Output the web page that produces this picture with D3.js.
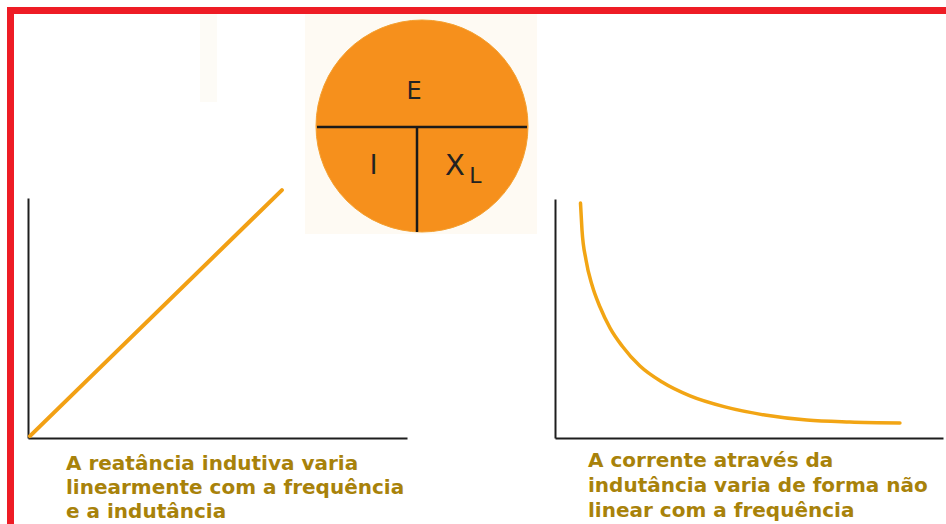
<!DOCTYPE html>
<html>
<head>
<meta charset="utf-8">
<script src="https://cdn.jsdelivr.net/npm/d3@7"></script>
<style>
  html, body { margin: 0; padding: 0; background: #ffffff; }
  svg { display: block; }
</style>
</head>
<body>
<svg id="chart" width="946" height="524"></svg>
<script>
// ---- Data ----
// Left chart: inductive reactance vs frequency (linear)
const leftFrequency = [0.5, 67];
const leftReactance = [0.8, 103.3];
// Right chart: current vs frequency (non-linear)
const rightFrequency = [6.57, 6.96, 7.99, 9.54, 11.6, 14.2, 17.3, 21.9, 27.6, 34.8, 43.8, 54.1, 64.9, 76.0, 88.9];
const rightCurrent   = [98.3, 87.0, 74.5, 64.0, 54.8, 46.0, 38.5, 30.1, 23.4, 17.6, 13.0, 9.6, 7.5, 6.7, 6.3];
// Circle (Ohm's law triangle) labels
const circleLabels = ["E", "I", "X", "L"];
// Captions
const leftCaption = ["A reatância indutiva varia", "linearmente com a frequência", "e a indutância"];
const rightCaption = ["A corrente através da", "indutância varia de forma não", "linear com a frequência"];

const svg = d3.select("#chart");

// faint scanned-paper background patches
svg.append("rect").attr("x", 305).attr("y", 14).attr("width", 232).attr("height", 220).attr("fill", "#fefaf3");
svg.append("rect").attr("x", 200).attr("y", 14).attr("width", 17).attr("height", 88).attr("fill", "#fdfbf6");

// red frame
svg.append("rect").attr("x", 7).attr("y", 7).attr("width", 939).attr("height", 7).attr("fill", "#ee1c25");
svg.append("rect").attr("x", 7).attr("y", 7).attr("width", 7).attr("height", 517).attr("fill", "#ee1c25");

// ---- Left chart ----
const xL = d3.scaleLinear().domain([0, 100]).range([28, 407]);
const yL = d3.scaleLinear().domain([0, 100]).range([438, 198]);
const axisStyle = g => {
  g.selectAll(".domain").attr("stroke", "#1e1e1e").attr("stroke-width", 2);
  g.selectAll(".tick").remove();
};
svg.append("g").attr("transform", `translate(0,${yL(0)})`)
  .call(d3.axisBottom(xL).ticks(0).tickSizeOuter(0)).call(axisStyle);
svg.append("g").attr("transform", `translate(${xL(0)},0)`)
  .call(d3.axisLeft(yL).ticks(0).tickSizeOuter(0)).call(axisStyle);

const leftPts = leftFrequency.map((f, i) => [f, leftReactance[i]]);
svg.append("path")
  .datum(leftPts)
  .attr("d", d3.line().x(d => xL(d[0])).y(d => yL(d[1])))
  .attr("fill", "none")
  .attr("stroke", "#f2a014")
  .attr("stroke-width", 4)
  .attr("stroke-linecap", "round");

// ---- Right chart ----
const xR = d3.scaleLinear().domain([0, 100]).range([555, 943]);
const yR = d3.scaleLinear().domain([0, 100]).range([438, 199]);
svg.append("g").attr("transform", `translate(0,${yR(0)})`)
  .call(d3.axisBottom(xR).ticks(0).tickSizeOuter(0)).call(axisStyle);
svg.append("g").attr("transform", `translate(${xR(0)},0)`)
  .call(d3.axisLeft(yR).ticks(0).tickSizeOuter(0)).call(axisStyle);

const rightPts = rightFrequency.map((f, i) => [f, rightCurrent[i]]);
svg.append("path")
  .datum(rightPts)
  .attr("d", d3.line().x(d => xR(d[0])).y(d => yR(d[1])).curve(d3.curveMonotoneX))
  .attr("fill", "none")
  .attr("stroke", "#f2a514")
  .attr("stroke-width", 3.5)
  .attr("stroke-linecap", "round");

// ---- Circle ----
const cx = 422, cy = 126, r = 106;
svg.append("circle").attr("cx", cx).attr("cy", cy).attr("r", r)
  .attr("fill", "#f6901c").attr("stroke", "#f4a030").attr("stroke-width", 1);
svg.append("line").attr("x1", cx - r + 1).attr("x2", cx + r - 1).attr("y1", 127).attr("y2", 127)
  .attr("stroke", "#1a1a1a").attr("stroke-width", 2.5);
svg.append("line").attr("x1", 417).attr("x2", 417).attr("y1", 127).attr("y2", 232)
  .attr("stroke", "#1a1a1a").attr("stroke-width", 2.5);

const lblFont = "'DejaVu Sans', sans-serif";
svg.append("text").text(circleLabels[0]).attr("x", 414).attr("y", 99)
  .attr("text-anchor", "middle").attr("font-family", lblFont).attr("font-size", 24).attr("fill", "#222");
svg.append("text").text(circleLabels[1]).attr("x", 373.5).attr("y", 174)
  .attr("text-anchor", "middle").attr("font-family", lblFont).attr("font-size", 26).attr("fill", "#222");
svg.append("text").text(circleLabels[2]).attr("x", 455).attr("y", 175)
  .attr("text-anchor", "middle").attr("font-family", lblFont).attr("font-size", 29).attr("fill", "#222");
svg.append("text").text(circleLabels[3]).attr("x", 475.5).attr("y", 183)
  .attr("text-anchor", "middle").attr("font-family", lblFont).attr("font-size", 22).attr("fill", "#222");

// ---- Captions ----
const capFont = "'DejaVu Sans', Verdana, sans-serif";
const capColor = "#a8820a";
leftCaption.forEach((t, i) => {
  svg.append("text").text(t).attr("x", 66).attr("y", 470 + i * 24)
    .attr("font-family", capFont).attr("font-weight", "bold").attr("font-size", 20).attr("fill", capColor);
});
rightCaption.forEach((t, i) => {
  svg.append("text").text(t).attr("x", 588).attr("y", 467 + i * 25)
    .attr("font-family", capFont).attr("font-weight", "bold").attr("font-size", 20).attr("fill", capColor);
});
</script>
</body>
</html>
